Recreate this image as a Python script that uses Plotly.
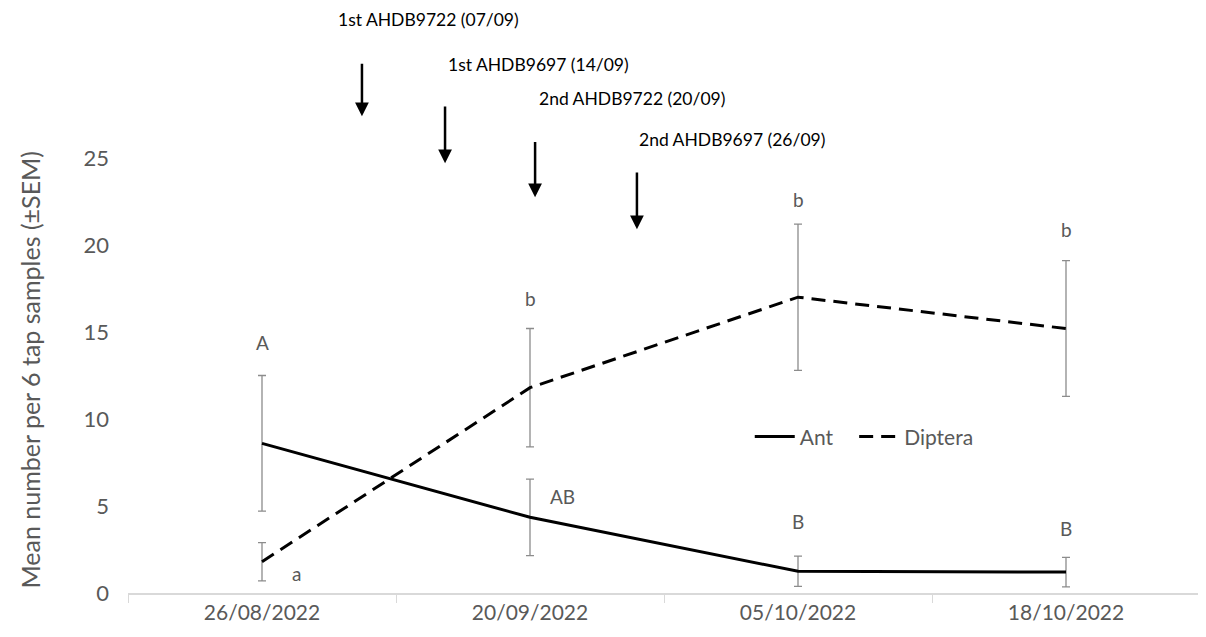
import plotly.graph_objects as go

dates = ["26/08/2022", "20/09/2022", "05/10/2022", "18/10/2022"]
ant_mean = [8.6, 4.35, 1.25, 1.2]
ant_sem = [3.9, 2.2, 0.87, 0.85]
dip_mean = [1.8, 11.8, 17.0, 15.2]
dip_sem = [1.1, 3.4, 4.2, 3.9]

ant_letters = ["A", "AB", "B", "B"]
ant_letter_x = [0.0, 1.12, 2.0, 3.0]
ant_letter_y = [14.4, 5.55, 4.1, 3.7]
dip_letters = ["a", "b", "b", "b"]
dip_letter_x = [0.13, 1.0, 2.0, 3.0]
dip_letter_y = [1.1, 16.95, 22.6, 20.9]

sprays = ["1st AHDB9722 (07/09)", "1st AHDB9697 (14/09)",
          "2nd AHDB9722 (20/09)", "2nd AHDB9697 (26/09)"]
spray_text_x = [0.62, 1.03, 1.38, 1.755]
spray_text_y = [32.95, 30.4, 28.4, 26.05]
spray_arrow_x = [0.373, 0.683, 1.019, 1.399]
spray_arrow_top = [30.5, 28.05, 26.0, 24.25]
spray_arrow_tip = [27.4, 24.7, 22.75, 20.9]

y_title = "Mean number per 6 tap samples (±SEM)"

FONT = "Lato"
GREY = "#595959"
ERR = "#8c8c8c"

fig = go.Figure()
fig.add_trace(go.Scatter(
    x=dates, y=ant_mean, name="Ant   ", mode="lines",
    line=dict(color="black", width=3),
    error_y=dict(type="data", array=ant_sem, color=ERR, thickness=1.3, width=4),
))
fig.add_trace(go.Scatter(
    x=dates, y=dip_mean, name="Diptera", mode="lines",
    line=dict(color="black", width=3, dash="14px,8px"),
    error_y=dict(type="data", array=dip_sem, color=ERR, thickness=1.3, width=4),
))

annotations = []
for t, x, y in zip(ant_letters + dip_letters, ant_letter_x + dip_letter_x,
                   ant_letter_y + dip_letter_y):
    annotations.append(dict(x=x, y=y, xref="x", yref="y", text=t, showarrow=False,
                            font=dict(family=FONT, size=19, color=GREY)))
for t, tx, ty in zip(sprays, spray_text_x, spray_text_y):
    annotations.append(dict(x=tx, y=ty, xref="x", yref="y", text=t, showarrow=False,
                            font=dict(family=FONT, size=17.5, color="black")))
for ax_, top, tip in zip(spray_arrow_x, spray_arrow_top, spray_arrow_tip):
    annotations.append(dict(x=ax_, y=tip, ax=ax_, ay=top, xref="x", yref="y",
                            axref="x", ayref="y", text="", showarrow=True,
                            arrowhead=2, arrowsize=1.1, arrowwidth=2.5,
                            arrowcolor="black"))
annotations.append(dict(x=-0.0914, y=0.382, xref="paper", yref="paper",
                        text=y_title, textangle=-90, showarrow=False,
                        xanchor="center", yanchor="middle",
                        font=dict(family=FONT, size=25, color=GREY)))

fig.update_layout(
    width=1198, height=629,
    margin=dict(l=120, r=6, t=0, b=44, autoexpand=False),
    plot_bgcolor="white", paper_bgcolor="white",
    font=dict(family=FONT, color=GREY),
    showlegend=True,
    legend=dict(orientation="h", x=0.58, y=0.267, xanchor="left", yanchor="middle",
                font=dict(family=FONT, size=21, color=GREY),
                bgcolor="rgba(0,0,0,0)", itemwidth=40),
    annotations=annotations,
)
fig.update_xaxes(
    type="category", range=[-0.5, 3.5], automargin=False,
    showline=True, linecolor="#d9d9d9", linewidth=1.5,
    ticks="outside", tickson="boundaries", ticklen=8, tickcolor="#d9d9d9",
    showgrid=False, zeroline=False,
    tickfont=dict(family=FONT, size=21, color=GREY),
)
fig.update_yaxes(
    range=[0, 585 / 17.4], tickvals=[0, 5, 10, 15, 20, 25], automargin=False,
    showgrid=False, zeroline=False, showline=False,
    ticklabelstandoff=18,
    tickfont=dict(family=FONT, size=22, color=GREY),
)

fig.write_html("out.html")
